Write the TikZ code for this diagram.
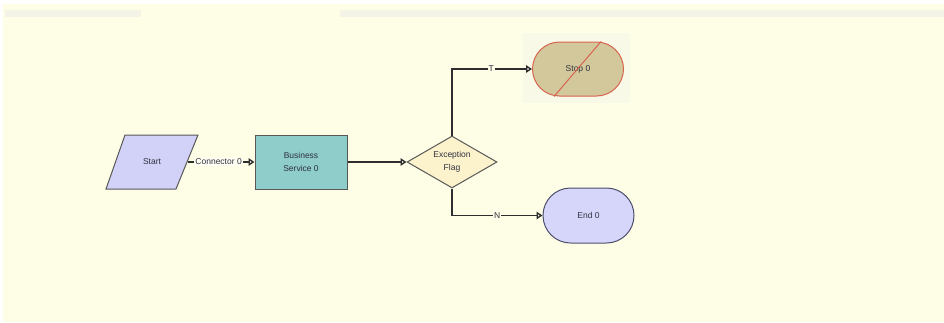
\documentclass[tikz,border=0pt]{standalone}
\usepackage{fontspec}
\setmainfont{Liberation Sans}
\usetikzlibrary{shapes.geometric,shapes.misc,arrows.meta}
\definecolor{canvas}{HTML}{FEFEE6}
\definecolor{band}{HTML}{F3F3E6}
\definecolor{halo}{HTML}{F9F9E8}
\definecolor{linec}{HTML}{2E2E2E}
\definecolor{txt}{HTML}{303040}
\definecolor{startfill}{HTML}{D2D2F8}
\definecolor{svcfill}{HTML}{8ECDC9}
\definecolor{decfill}{HTML}{FCF3CC}
\definecolor{stopfill}{HTML}{D3C89C}
\definecolor{stopline}{HTML}{D8644F}
\definecolor{endfill}{HTML}{D6D6FA}
\definecolor{endline}{HTML}{4E4E6E}
\tikzset{
  box/.style={draw=#1, line width=1pt, text=txt, align=center,
    font=\fontsize{8.5}{13.5}\selectfont, inner sep=0pt},
  flow/.style={draw=linec, line width=1.6pt,
    -{Triangle[open,length=6pt,width=7.5pt,line width=1.4pt]}},
  tag/.style={fill=canvas, text=txt, inner sep=1pt,
    font=\fontsize{8.5}{10}\selectfont},
}
\begin{document}
\begin{tikzpicture}[x=1pt,y=-1pt]
  \useasboundingbox (0,0) rectangle (944,322);
  % canvas and header strips
  \fill[white] (0,0) rectangle (944,322);
  \fill[canvas] (3,4) rectangle (944,322);
  \fill[band] (5,10) rectangle (141,17);
  \fill[band] (340,10) rectangle (944,17);
  \fill[halo] (523,33) rectangle (630,103);

  % start parallelogram, drawn as a path behind its label
  \filldraw[draw=linec!80, line width=1pt, fill=startfill]
        (125,135) -- (198,135) -- (176,189) -- (106,189) -- cycle;
  \node[text=txt, font=\fontsize{8.5}{13.5}\selectfont]
        (start) at (152,162) {Start};
  \coordinate (startout) at (188,162);

  % other shapes
  \node[box=linec!80, minimum width=92pt, minimum height=54pt, fill=svcfill]
        (svc) at (301,162) {Business\\Service 0};
  \node[box=linec!80, shape=diamond, shape aspect=1.75,
        minimum width=90pt, minimum height=52pt, fill=decfill]
        (dec) at (452,162) {Exception\\Flag};
  \node[box=stopline, shape=rounded rectangle, minimum width=91pt,
        minimum height=54pt, fill=stopfill]
        (stop) at (578,69) {Stop 0};
  \draw[stopline, line width=1pt]
        ([xshift=-24pt]stop.south) -- ([xshift=23pt]stop.north);
  \node[box=endline, shape=rounded rectangle, minimum width=91pt,
        minimum height=55pt, fill=endfill]
        (end) at (588.5,215.5) {End 0};

  % connectors
  \draw[flow] (startout) -- node[tag, fill=white!55!canvas, pos=0.46]
        {Connector 0} (svc.west);
  \draw[flow] (svc.east) -- (dec.west);
  \draw[flow] (dec.north) |- node[tag, pos=0.745] {T} (stop.west);
  \draw[flow] (dec.south) |- node[tag, pos=0.75] {N} (end.west);
\end{tikzpicture}
\end{document}
